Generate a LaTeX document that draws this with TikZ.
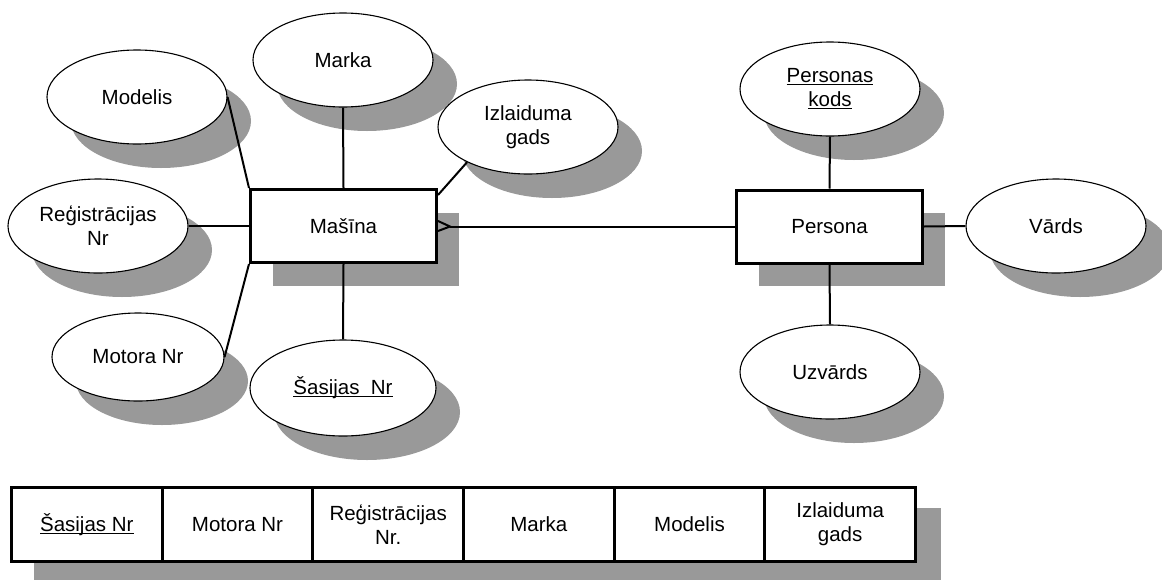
\documentclass[tikz,border=0pt]{standalone}
\usepackage{fontspec}
\setmainfont{Liberation Sans}
\usepackage{xcolor}
\usepackage{tikz}
\usetikzlibrary{shapes.geometric,shadows,positioning}
\definecolor{shadowgray}{HTML}{999999}
\newcommand{\keyattr}[1]{\setbox0\hbox{#1}\rlap{\rule[-2.6pt]{\wd0}{1.3pt}}\box0}

\begin{document}
\begin{tikzpicture}[x=1pt,y=-1pt,
    every node/.style={font=\fontsize{20.5}{24}\selectfont, align=center},
    attr/.style={ellipse, draw, line width=1.1pt, fill=white, inner sep=0pt,
        minimum width=180pt, minimum height=94pt,
        general shadow={fill=shadowgray, shadow xshift=24pt, shadow yshift=-24pt}},
    ent/.style={rectangle, draw, line width=3pt, fill=white,
        minimum width=186pt, minimum height=73pt,
        general shadow={fill=shadowgray, shadow xshift=22pt, shadow yshift=-23pt}},
    cell/.style={rectangle, draw, line width=3pt, fill=white, outer sep=0pt,
        minimum width=150.67pt, minimum height=74pt},
    link/.style={line width=2pt}]
            \useasboundingbox (0,0) rectangle (1162,579);

            % Nodes
            \node[ent] (masina) at (343.5,226) {Mašīna};
            \node[ent] (persona) at (829.5,226.5) {Persona};

            \node[attr] (modelis) at (137,97) {Modelis};
            \node[attr] (marka) at (343,60) {Marka};
            \node[attr] (izl) at (528,127) {Izlaiduma\\gads};
            \node[attr] (reg) at (98,226) {Reģistrācijas\\Nr};
            \node[attr, minimum width=172pt, minimum height=88pt] (motora) at (138,357) {Motora Nr};
            \node[attr, minimum width=186pt, minimum height=96pt] (sasijas) at (343,388) {\keyattr{Šasijas\ \ Nr}};
            \node[attr] (pk) at (830,89) {\keyattr{Personas}\\\keyattr{kods}};
            \node[attr] (vards) at (1056,226) {Vārds};
            \node[attr] (uzv) at (830,372) {Uzvārds};

            % Edges
            \draw[link] (modelis.east) -- (masina.north west);
            \draw[link] (marka.south) -- (masina.north);
            \draw[link] ([yshift=-7pt]masina.north east) -- (izl.210);
            \draw[link] (reg.east) -- (masina.west);
            \draw[link] (masina.south west) -- (motora.east);
            \draw[link] (masina.south) -- (sasijas.north);

            \coordinate (cf) at (450,226.5);
            \draw[link] ([yshift=5pt]masina.east) -- (cf) -- ([yshift=-5pt]masina.east);
            \draw[link] (cf) -- (persona.west);

            \draw[link] (persona.north) -- (pk.south);
            \draw[link] (persona.south) -- (uzv.north);
            \draw[link] (persona.east) -- (vards.west);

            % Table
            \fill[shadowgray] (34,508) rectangle (941,585);
            \node[cell] (c1) at (86.83,524.5) {\keyattr{Šasijas Nr}};
            \node[cell] (c2) at (237.5,524.5) {Motora Nr};
            \node[cell] (c3) at (388.17,524.5) {Reģistrācijas\\Nr.};
            \node[cell] (c4) at (538.83,524.5) {Marka};
            \node[cell] (c5) at (689.5,524.5) {Modelis};
            \node[cell] (c6) at (840.17,524.5) {Izlaiduma\\gads};
        \end{tikzpicture}
\end{document}
